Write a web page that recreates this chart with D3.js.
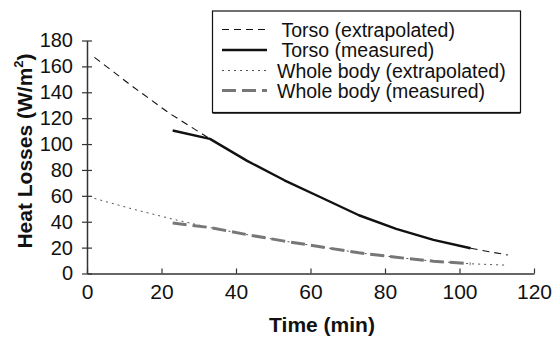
<!DOCTYPE html>
<html>
<head>
<meta charset="utf-8">
<script src="https://cdn.jsdelivr.net/npm/d3@7"></script>
<style>
body { margin: 0; background: #fff; }
text { font-family: "Liberation Sans", Arial, sans-serif; fill: #111; }
</style>
</head>
<body>
<svg></svg>
<script>
const w = 558;
const h = 340;

// Data
const torsoExtrapolated = [[2, 167], [12, 145], [22, 124], [33, 104]];
const torsoExtrapolatedTail = [[103, 19.5], [108, 16.8], [113, 14.3]];
const torsoMeasured = [[23, 110.5], [33, 104], [43, 87], [53, 72], [63, 58.5], [73, 45], [83, 34.5], [93, 26], [103, 19.5]];
const bodyExtrapolated = [[2, 58], [12, 50], [23, 42], [33, 35.5], [43, 30], [53, 25], [63, 20.5], [73, 16], [83, 12.5], [93, 9.5], [103, 7.5], [112, 6.5]];
const bodyMeasured = [[23, 39], [33, 35.5], [43, 30], [53, 25], [63, 20.5], [73, 16], [83, 12.5], [93, 9.5], [103, 7.5]];
const xTicks = [0, 20, 40, 60, 80, 100, 120];
const yTicks = [0, 20, 40, 60, 80, 100, 120, 140, 160, 180];
const legendLabels = ["Torso (extrapolated)", "Torso (measured)", "Whole body (extrapolated)", "Whole body (measured)"];

const svg = d3.select("svg")
    .attr("width", w)
    .attr("height", h);

const x = d3.scaleLinear().domain([0, 120]).range([87, 534]);
const y = d3.scaleLinear().domain([0, 180]).range([273.5, 40.5]);

// Axes
const xAxis = svg.append("g")
    .attr("transform", `translate(0,${y(0)})`)
    .call(d3.axisBottom(x).tickValues(xTicks).tickSize(0).tickPadding(11));
xAxis.select(".domain").attr("stroke", "#333").attr("stroke-width", 1.5);
xAxis.selectAll(".tick").append("line")
    .attr("y1", -5).attr("y2", 0)
    .attr("stroke", "#333").attr("stroke-width", 1.2);
xAxis.selectAll("text").attr("font-size", 21).attr("font-family", "Liberation Sans, Arial").attr("fill", "#111");

const yAxis = svg.append("g")
    .attr("transform", `translate(${x(0)},0)`)
    .call(d3.axisLeft(y).tickValues(yTicks).tickSize(0).tickPadding(14));
yAxis.select(".domain").attr("stroke", "#333").attr("stroke-width", 1.5);
yAxis.selectAll(".tick").append("line")
    .attr("x1", -5).attr("x2", 5)
    .attr("stroke", "#333").attr("stroke-width", 1.2);
yAxis.selectAll("text").attr("font-size", 20).attr("font-family", "Liberation Sans, Arial").attr("fill", "#111");

// Titles
svg.append("text")
    .attr("x", 322)
    .attr("y", 332)
    .attr("text-anchor", "middle")
    .attr("font-size", 21)
    .attr("font-weight", "bold")
    .text("Time (min)");

const yTitle = svg.append("text")
    .attr("transform", "translate(32,151) rotate(-90)")
    .attr("text-anchor", "middle")
    .attr("font-size", 21)
    .attr("font-weight", "bold");
yTitle.append("tspan").text("Heat Losses (W/m");
yTitle.append("tspan").attr("font-size", 13).attr("dy", -9).text("2");
yTitle.append("tspan").attr("dy", 9).text(")");

// Lines
const line = d3.line()
    .x(d => x(d[0]))
    .y(d => y(d[1]));

const styles = [
    { stroke: "#111", width: 1.1, dash: "7,5" },
    { stroke: "#111", width: 2.4, dash: null },
    { stroke: "#555", width: 1, dash: "2,4" },
    { stroke: "#777", width: 3, dash: "14,6" }
];

const series = [
    { data: bodyExtrapolated, s: styles[2] },
    { data: bodyMeasured, s: styles[3] },
    { data: torsoExtrapolated, s: styles[0] },
    { data: torsoExtrapolatedTail, s: styles[0] },
    { data: torsoMeasured, s: styles[1] }
];

svg.selectAll(".series")
    .data(series)
    .enter()
    .append("path")
    .attr("class", "series")
    .attr("fill", "none")
    .attr("stroke-linejoin", "round")
    .attr("d", d => line(d.data))
    .attr("stroke", d => d.s.stroke)
    .attr("stroke-width", d => d.s.width)
    .attr("stroke-dasharray", d => d.s.dash);

// Legend
const legend = svg.append("g");
legend.append("rect")
    .attr("x", 212.5).attr("y", 11)
    .attr("width", 308).attr("height", 101.5)
    .attr("fill", "#fff")
    .attr("stroke", "#111")
    .attr("stroke-width", 1.2);
legend.append("line")
    .attr("x1", 212.5).attr("x2", 520.5)
    .attr("y1", 113).attr("y2", 113)
    .attr("stroke", "#111").attr("stroke-width", 1.5);

const rows = [29.5, 50, 70.5, 90.5];
const textX = [281.5, 281.5, 277, 277];
legendLabels.forEach((label, i) => {
    legend.append("line")
        .attr("x1", 222).attr("x2", 267)
        .attr("y1", rows[i]).attr("y2", rows[i])
        .attr("stroke", styles[i].stroke)
        .attr("stroke-width", styles[i].width)
        .attr("stroke-dasharray", styles[i].dash);
    legend.append("text")
        .attr("x", textX[i])
        .attr("y", rows[i] + 7)
        .attr("font-size", 19.5)
        .text(label);
});
</script>
</body>
</html>
